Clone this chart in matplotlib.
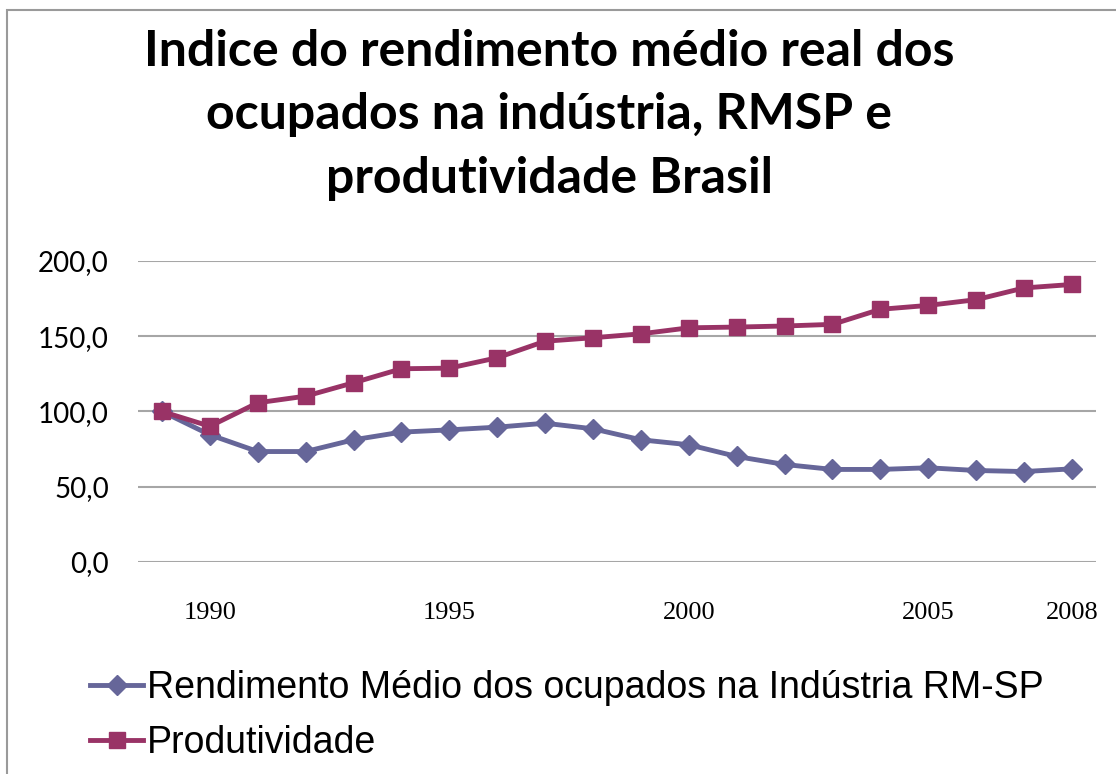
import matplotlib
matplotlib.use("Agg")
import matplotlib.pyplot as plt
from matplotlib.patches import Rectangle
from matplotlib.ticker import FuncFormatter

# Índices (1989 = 100)
anos = list(range(1989, 2009))
rendimento = [100.0, 84.5, 73.4, 73.4, 81.2, 86.3, 87.8, 89.6, 92.2, 88.5,
              81.2, 77.9, 70.1, 64.8, 61.5, 61.5, 62.6, 60.8, 60.1, 61.9]
produtividade = [100.0, 90.2, 105.8, 110.2, 119.1, 128.4, 128.8, 135.7, 146.7, 149.0,
                 151.6, 155.6, 156.1, 156.8, 157.9, 167.9, 170.5, 174.3, 182.1, 184.4]
anos_rotulo = [1990, 1995, 2000, 2005, 2008]

titulo = ("Indice do rendimento médio real dos\n"
          "ocupados na indústria, RMSP e\n"
          "produtividade Brasil")
nome_rend = "Rendimento Médio dos ocupados na Indústria RM-SP"
nome_prod = "Produtividade"

fig = plt.figure(figsize=(11.16, 7.74), dpi=100)
ax = fig.add_axes([0.1237, 0.2739, 0.8583, 0.3889])

ax.plot(anos, rendimento, color="#666699", lw=3.5, marker="D", markersize=10,
        label=nome_rend, zorder=3)
ax.plot(anos, produtividade, color="#993366", lw=3.5, marker="s", markersize=12,
        label=nome_prod, zorder=4)

ax.set_xlim(1988.5, 2008.5)
ax.set_ylim(0, 200)
ax.set_yticks([0, 50, 100, 150, 200])
ax.yaxis.set_major_formatter(FuncFormatter(lambda v, p: f"{v:.1f}".replace(".", ",")))
ax.set_xticks(anos_rotulo)
ax.grid(axis="y", color="#a6a6a6", lw=1.5)
ax.set_axisbelow(True)
for s in ax.spines.values():
    s.set_visible(False)
ax.tick_params(length=0)
ax.tick_params(axis="y", pad=21)
ax.tick_params(axis="x", pad=29)
for t in ax.get_yticklabels():
    t.set_fontfamily("Lato")
    t.set_fontsize(20)
for t in ax.get_xticklabels():
    t.set_fontfamily("Liberation Serif")
    t.set_fontsize(19)

fig.text(0.492, 0.963, titulo, ha="center", va="top", fontfamily="Lato",
         fontweight="bold", fontsize=36, linespacing=1.5)

fig.legend(loc="upper left", bbox_to_anchor=(0.081, 0.134), frameon=False,
           prop={"family": "Liberation Sans", "size": 27},
           handlelength=1.41, handletextpad=0.1, labelspacing=0.5,
           borderaxespad=0, borderpad=0)

fig.add_artist(Rectangle((7 / 1116, -0.1), 1.2, 1.1 - 10 / 774, fill=False,
                         edgecolor="#9a9a9a", lw=1.5, transform=fig.transFigure))

fig.savefig("out.png", dpi=100)
